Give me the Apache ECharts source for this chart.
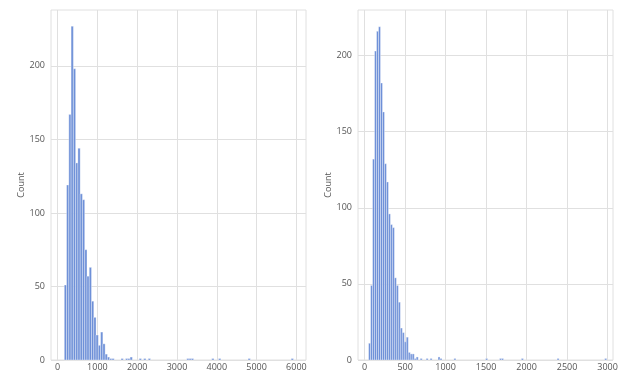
<!DOCTYPE html>
<html>
<head>
<meta charset="utf-8">
<script src="https://cdn.jsdelivr.net/npm/echarts@6/dist/echarts.min.js"></script>
<style>
  html, body { margin: 0; padding: 0; background: #fff; }
  #chart { width: 623px; height: 376px; }
</style>
</head>
<body>
<div id="chart"></div>
<script>
// Left histogram: bins of equal width starting at leftBinStart
const leftBinStart = 168;
const leftBinWidth = 57;
const leftCounts = [51, 119, 167, 227, 198, 134, 144, 113, 109, 75, 57, 63, 40, 29, 17, 10, 19, 11, 4];
// sparse tail: bin index -> count
const leftTailBins = [19, 20, 21, 25, 27, 28, 29, 33, 35, 37, 54, 55, 56, 65, 68, 81, 100];
const leftTailCounts = [2, 1, 1, 1, 1, 1, 2, 1, 1, 1, 1, 1, 1, 1, 1, 1, 1];
const leftXTicks = [0, 1000, 2000, 3000, 4000, 5000, 6000];

// Right histogram
const rightBinStart = 49;
const rightBinWidth = 24.5;
const rightCounts = [11, 49, 132, 203, 216, 219, 182, 163, 129, 117, 96, 89, 87, 54, 49, 38, 21, 18, 12, 15, 5, 4, 4, 1];
const rightTailBins = [24, 26, 29, 31, 35, 36, 43, 59, 66, 67, 77, 95, 119];
const rightTailCounts = [2, 1, 1, 1, 2, 1, 1, 1, 1, 1, 1, 1, 1];
const rightXTicks = [0, 500, 1000, 1500, 2000, 2500, 3000];

const yTicks = [0, 50, 100, 150, 200];

function buildBins(start, width, counts, tailBins, tailCounts) {
  const out = counts.map((c, i) => [start + i * width, start + (i + 1) * width, c]);
  tailBins.forEach((b, k) => out.push([start + b * width, start + (b + 1) * width, tailCounts[k]]));
  return out;
}

const barColor = '#6e90d8';
const gridColor = '#e0e0e0';
const labelColor = '#555';
const font = 'Open Sans';

function renderBin(params, api) {
  const top = api.coord([api.value(0), api.value(2)]);
  const bottom = api.coord([api.value(1), 0]);
  return {
    type: 'rect',
    shape: { x: top[0], y: top[1], width: bottom[0] - top[0], height: bottom[1] - top[1] },
    style: { fill: barColor, stroke: '#ffffff', lineWidth: 0.35 }
  };
}

const plain = v => String(v);

function xAxis(gridIndex, min, max, ticks) {
  return {
    type: 'value', gridIndex, min, max,
    axisLine: { show: false },
    axisTick: { show: false, customValues: ticks },
    axisLabel: { customValues: ticks, formatter: plain, color: labelColor, fontSize: 9, fontFamily: font, margin: 3 },
    splitLine: { show: true, lineStyle: { color: gridColor, width: 1 } }
  };
}

function yAxis(gridIndex, max) {
  return {
    type: 'value', gridIndex, min: 0, max,
    name: 'Count', nameLocation: 'middle', nameRotate: 90, nameGap: 25,
    nameTextStyle: { color: labelColor, fontSize: 9, fontFamily: font },
    axisLine: { show: false },
    axisTick: { show: false, customValues: yTicks },
    axisLabel: { customValues: yTicks, formatter: plain, color: labelColor, fontSize: 9, fontFamily: font, margin: 6 },
    splitLine: { show: true, lineStyle: { color: gridColor, width: 1 } }
  };
}

const chart = echarts.init(document.getElementById('chart'), null, { renderer: 'canvas' });
chart.setOption({
  animation: false,
  backgroundColor: '#ffffff',
  grid: [
    { left: 51, top: 10, width: 255, height: 350, show: true, borderColor: gridColor, borderWidth: 1, backgroundColor: 'transparent' },
    { left: 358, top: 10, width: 255, height: 350, show: true, borderColor: gridColor, borderWidth: 1, backgroundColor: 'transparent' }
  ],
  xAxis: [
    xAxis(0, -166, 6241, leftXTicks),
    xAxis(1, -82, 3067, rightXTicks)
  ],
  yAxis: [
    yAxis(0, 238),
    yAxis(1, 230)
  ],
  series: [
    {
      type: 'custom', xAxisIndex: 0, yAxisIndex: 0,
      renderItem: renderBin,
      encode: { x: [0, 1], y: 2 },
      data: buildBins(leftBinStart, leftBinWidth, leftCounts, leftTailBins, leftTailCounts)
    },
    {
      type: 'custom', xAxisIndex: 1, yAxisIndex: 1,
      renderItem: renderBin,
      encode: { x: [0, 1], y: 2 },
      data: buildBins(rightBinStart, rightBinWidth, rightCounts, rightTailBins, rightTailCounts)
    }
  ]
});
</script>
</body>
</html>
